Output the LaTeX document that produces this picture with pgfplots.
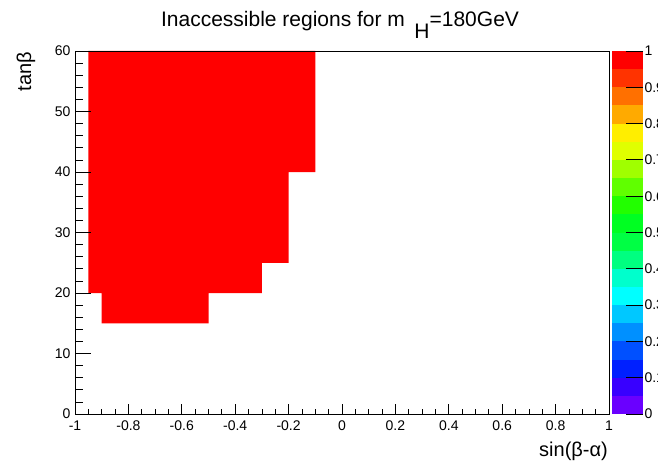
\documentclass[border=0pt]{standalone}
\usepackage{fontspec}
\setmainfont{Liberation Sans}
\usepackage{pgfplots}
\pgfplotsset{compat=1.18}
\definecolor{b1}{HTML}{6A00FF}
\definecolor{b2}{HTML}{3800FF}
\definecolor{b3}{HTML}{0020FF}
\definecolor{b4}{HTML}{0050FF}
\definecolor{b5}{HTML}{0090FF}
\definecolor{b6}{HTML}{00C8FF}
\definecolor{b7}{HTML}{00FFFF}
\definecolor{b8}{HTML}{00FFCC}
\definecolor{b9}{HTML}{00FF80}
\definecolor{b10}{HTML}{00FF44}
\definecolor{b11}{HTML}{00FF22}
\definecolor{b12}{HTML}{22FF00}
\definecolor{b13}{HTML}{60FF00}
\definecolor{b14}{HTML}{A0FF00}
\definecolor{b15}{HTML}{E0FF00}
\definecolor{b16}{HTML}{FFEE00}
\definecolor{b17}{HTML}{FFAA00}
\definecolor{b18}{HTML}{FF7000}
\definecolor{b19}{HTML}{FF3300}
\definecolor{b20}{HTML}{FF0000}
\begin{document}
\begin{tikzpicture}[x=1pt,y=1pt]
\useasboundingbox (0,0) rectangle (658,461);
\begin{axis}[
  at={(75pt,47pt)}, anchor=south west,
  scale only axis, width=534pt, height=363pt,
  xmin=-1, xmax=1, ymin=0, ymax=60,
  xtick={-1,-0.8,-0.6,-0.4,-0.2,0,0.2,0.4,0.6,0.8,1},
  xticklabels={-1,-0.8,-0.6,-0.4,-0.2,0,0.2,0.4,0.6,0.8,1},
  minor x tick num=3,
  ytick={0,10,20,30,40,50,60},
  yticklabels={0,10,20,30,40,50,60},
  minor y tick num=4,
  tick align=inside,
  xtick pos=bottom, ytick pos=left,
  axis on top,
  axis line style={line width=0.8pt},
  tick style={black, line width=0.8pt},
  xtick style={/pgfplots/major tick length=10pt,/pgfplots/minor tick length=5pt},
  ytick style={/pgfplots/major tick length=16pt,/pgfplots/minor tick length=8pt},
  ticklabel style={font=\fontsize{14}{16}\selectfont},
  xticklabel style={yshift=-3pt},
  yticklabel style={xshift=-1pt},
  /pgf/number format/assume math mode=true,
]
\addplot[fill=red, draw=none] coordinates {
  (-0.95,60) (-0.95,20) (-0.9,20) (-0.9,15) (-0.5,15) (-0.5,20)
  (-0.3,20) (-0.3,25) (-0.2,25) (-0.2,40) (-0.1,40) (-0.1,60)
} -- cycle;
\end{axis}
\begin{axis}[
  at={(612pt,47pt)}, anchor=south west,
  scale only axis, width=31pt, height=363pt,
  xmin=0, xmax=1, ymin=0, ymax=1,
  xtick=\empty,
  ytick={0,0.1,0.2,0.3,0.4,0.5,0.6,0.7,0.8,0.9,1},
  yticklabels={0,0.1,0.2,0.3,0.4,0.5,0.6,0.7,0.8,0.9,1},
  ytick pos=right, yticklabel pos=right,
  tick align=inside,
  major tick length=17pt,
  tick style={black, line width=0.8pt},
  axis line style={draw=none},
  axis on top,
  ticklabel style={font=\fontsize{14}{16}\selectfont},
  yticklabel style={xshift=-2pt},
  /pgf/number format/assume math mode=true,
]
\addplot[fill=b1, draw=none] coordinates {(0,0) (1,0) (1,0.05) (0,0.05)} -- cycle;
\addplot[fill=b2, draw=none] coordinates {(0,0.05) (1,0.05) (1,0.1) (0,0.1)} -- cycle;
\addplot[fill=b3, draw=none] coordinates {(0,0.1) (1,0.1) (1,0.15) (0,0.15)} -- cycle;
\addplot[fill=b4, draw=none] coordinates {(0,0.15) (1,0.15) (1,0.2) (0,0.2)} -- cycle;
\addplot[fill=b5, draw=none] coordinates {(0,0.2) (1,0.2) (1,0.25) (0,0.25)} -- cycle;
\addplot[fill=b6, draw=none] coordinates {(0,0.25) (1,0.25) (1,0.3) (0,0.3)} -- cycle;
\addplot[fill=b7, draw=none] coordinates {(0,0.3) (1,0.3) (1,0.35) (0,0.35)} -- cycle;
\addplot[fill=b8, draw=none] coordinates {(0,0.35) (1,0.35) (1,0.4) (0,0.4)} -- cycle;
\addplot[fill=b9, draw=none] coordinates {(0,0.4) (1,0.4) (1,0.45) (0,0.45)} -- cycle;
\addplot[fill=b10, draw=none] coordinates {(0,0.45) (1,0.45) (1,0.5) (0,0.5)} -- cycle;
\addplot[fill=b11, draw=none] coordinates {(0,0.5) (1,0.5) (1,0.55) (0,0.55)} -- cycle;
\addplot[fill=b12, draw=none] coordinates {(0,0.55) (1,0.55) (1,0.6) (0,0.6)} -- cycle;
\addplot[fill=b13, draw=none] coordinates {(0,0.6) (1,0.6) (1,0.65) (0,0.65)} -- cycle;
\addplot[fill=b14, draw=none] coordinates {(0,0.65) (1,0.65) (1,0.7) (0,0.7)} -- cycle;
\addplot[fill=b15, draw=none] coordinates {(0,0.7) (1,0.7) (1,0.75) (0,0.75)} -- cycle;
\addplot[fill=b16, draw=none] coordinates {(0,0.75) (1,0.75) (1,0.8) (0,0.8)} -- cycle;
\addplot[fill=b17, draw=none] coordinates {(0,0.8) (1,0.8) (1,0.85) (0,0.85)} -- cycle;
\addplot[fill=b18, draw=none] coordinates {(0,0.85) (1,0.85) (1,0.9) (0,0.9)} -- cycle;
\addplot[fill=b19, draw=none] coordinates {(0,0.9) (1,0.9) (1,0.95) (0,0.95)} -- cycle;
\addplot[fill=b20, draw=none] coordinates {(0,0.95) (1,0.95) (1,1) (0,1)} -- cycle;
\end{axis}
\node[anchor=base, font=\fontsize{21}{24}\selectfont] at (340,434) {Inaccessible regions for m\hspace{0.45em}\raisebox{-0.55em}{H}=180GeV};
\node[rotate=90, anchor=east, font=\fontsize{20}{22}\selectfont, inner sep=0pt] at (26,409) {tanβ};
\node[anchor=base east, font=\fontsize{20}{22}\selectfont, inner sep=0pt] at (608,5) {sin(β-α)};
\end{tikzpicture}
\end{document}
